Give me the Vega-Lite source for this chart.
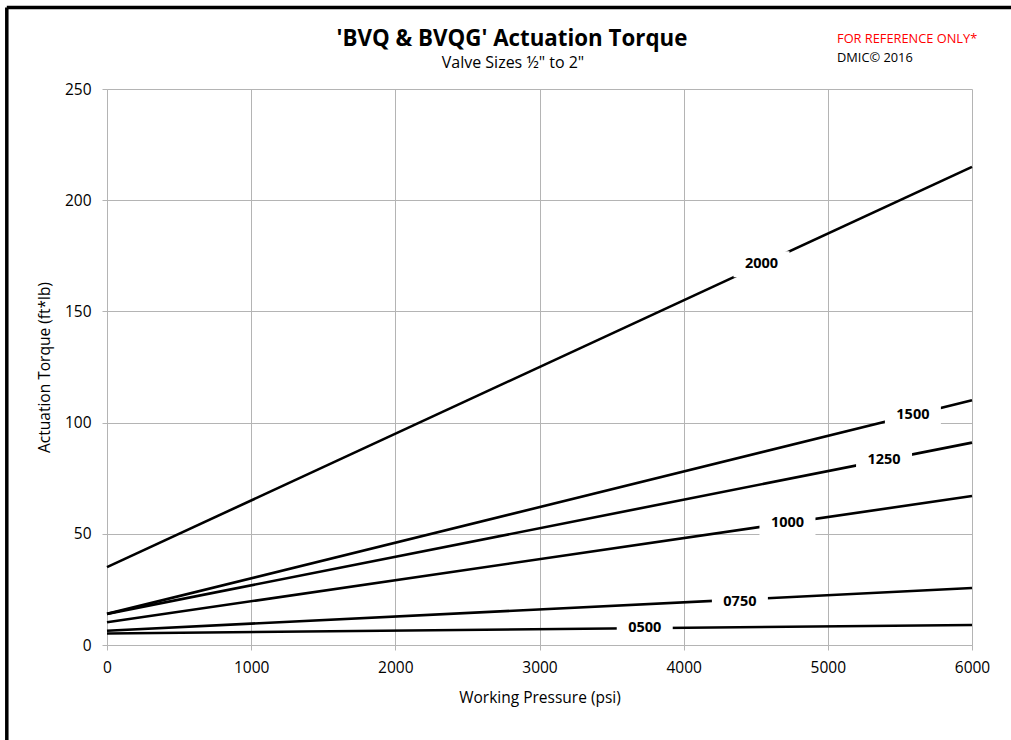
{
  "$schema": "https://vega.github.io/schema/vega-lite/v6.json",
  "width": 865,
  "height": 556,
  "autosize": {"type": "none"},
  "padding": {"left": 107, "top": 89, "right": 39, "bottom": 95},
  "background": "white",
  "config": {
    "font": "Open Sans",
    "view": {"stroke": null},
    "axis": {
      "gridColor": "#b4b4b4",
      "domainColor": "#b4b4b4",
      "tickColor": "#b4b4b4",
      "gridWidth": 1,
      "domainWidth": 1,
      "tickWidth": 1,
      "tickSize": 5,
      "labelFlush": false,
      "labelOverlap": false,
      "labelFont": "Open Sans",
      "labelFontSize": 15.5,
      "labelColor": "black",
      "titleFont": "Open Sans",
      "titleFontSize": 15.5,
      "titleFontWeight": "normal",
      "titleColor": "black"
    }
  },
  "datasets": {
    "lines": [
      {"series": "2000", "pressure": 0, "torque": 35},
      {"series": "2000", "pressure": 6000, "torque": 215},
      {"series": "1500", "pressure": 0, "torque": 14},
      {"series": "1500", "pressure": 6000, "torque": 110},
      {"series": "1250", "pressure": 0, "torque": 14},
      {"series": "1250", "pressure": 6000, "torque": 91},
      {"series": "1000", "pressure": 0, "torque": 10.2},
      {"series": "1000", "pressure": 6000, "torque": 67},
      {"series": "0750", "pressure": 0, "torque": 6.4},
      {"series": "0750", "pressure": 6000, "torque": 25.6},
      {"series": "0500", "pressure": 0, "torque": 5.2},
      {"series": "0500", "pressure": 6000, "torque": 9}
    ],
    "labels": [
      {"series": "2000", "pressure": 4540, "torque": 171.2},
      {"series": "1500", "pressure": 5590, "torque": 103.4},
      {"series": "1250", "pressure": 5390, "torque": 83.2},
      {"series": "1000", "pressure": 4720, "torque": 54.8},
      {"series": "0750", "pressure": 4390, "torque": 19.2},
      {"series": "0500", "pressure": 3730, "torque": 7.8}
    ],
    "notes": [
      {"note": "FOR REFERENCE ONLY*", "kind": "warn", "pressure": 5064, "torque": 270.6},
      {"note": "DMIC© 2016", "kind": "copy", "pressure": 5064, "torque": 262.1}
    ],
    "title": [
      {"heading": "'BVQ & BVQG' Actuation Torque", "pressure": 2809, "torque": 269.3}
    ],
    "subtitle": [
      {"heading": "Valve Sizes ½\" to 2\"", "pressure": 2816, "torque": 259.3}
    ],
    "frame": [
      {"pressure": -695, "pressure2": -695, "torque": -60, "torque2": 286.6},
      {"pressure": -695, "pressure2": 6500, "torque": 286.6, "torque2": 286.6}
    ]
  },
  "encoding": {
    "x": {
      "field": "pressure",
      "type": "quantitative",
      "scale": {"domain": [0, 6000], "nice": false, "zero": false},
      "axis": {
        "title": "Working Pressure (psi)",
        "values": [0, 1000, 2000, 3000, 4000, 5000, 6000],
        "format": "d",
        "labelPadding": 10,
        "titlePadding": 15,
        "grid": true
      }
    },
    "y": {
      "field": "torque",
      "type": "quantitative",
      "scale": {"domain": [0, 250], "nice": false, "zero": false},
      "axis": {
        "title": "Actuation Torque (ft*lb)",
        "values": [0, 50, 100, 150, 200, 250],
        "format": "d",
        "labelPadding": 11,
        "titlePadding": 12,
        "grid": true
      }
    }
  },
  "layer": [
    {
      "data": {"name": "lines"},
      "mark": {"type": "line", "color": "black", "strokeWidth": 2.6},
      "encoding": {"detail": {"field": "series", "type": "nominal"}}
    },
    {
      "data": {"name": "labels"},
      "mark": {
        "type": "point",
        "shape": "M -1 -0.46 L 1 -0.46 L 1 0.46 L -1 0.46 Z",
        "filled": true,
        "color": "white",
        "opacity": 1,
        "size": 3136,
        "strokeWidth": 0
      }
    },
    {
      "data": {"name": "labels"},
      "mark": {"type": "text", "font": "Open Sans", "fontSize": 14.5, "fontWeight": "bold", "color": "black", "baseline": "middle", "align": "center"},
      "encoding": {"text": {"field": "series", "type": "nominal"}}
    },
    {
      "data": {"name": "notes"},
      "mark": {"type": "text", "font": "Open Sans", "fontSize": 12.8, "align": "left", "baseline": "alphabetic", "clip": false},
      "encoding": {
        "text": {"field": "note", "type": "nominal"},
        "color": {"field": "kind", "type": "nominal", "scale": {"domain": ["warn", "copy"], "range": ["#ff0000", "#000000"]}, "legend": null}
      }
    },
    {
      "data": {"name": "title"},
      "mark": {"type": "text", "font": "Open Sans", "fontSize": 22.3, "fontWeight": "bold", "align": "center", "baseline": "alphabetic", "color": "black", "clip": false},
      "encoding": {"text": {"field": "heading", "type": "nominal"}}
    },
    {
      "data": {"name": "subtitle"},
      "mark": {"type": "text", "font": "Open Sans", "fontSize": 16, "align": "center", "baseline": "alphabetic", "color": "black", "clip": false},
      "encoding": {"text": {"field": "heading", "type": "nominal"}}
    },
    {
      "data": {"name": "frame"},
      "mark": {"type": "rule", "color": "black", "strokeWidth": 3.5, "clip": false},
      "encoding": {
        "x2": {"field": "pressure2"},
        "y2": {"field": "torque2"}
      }
    }
  ]
}
